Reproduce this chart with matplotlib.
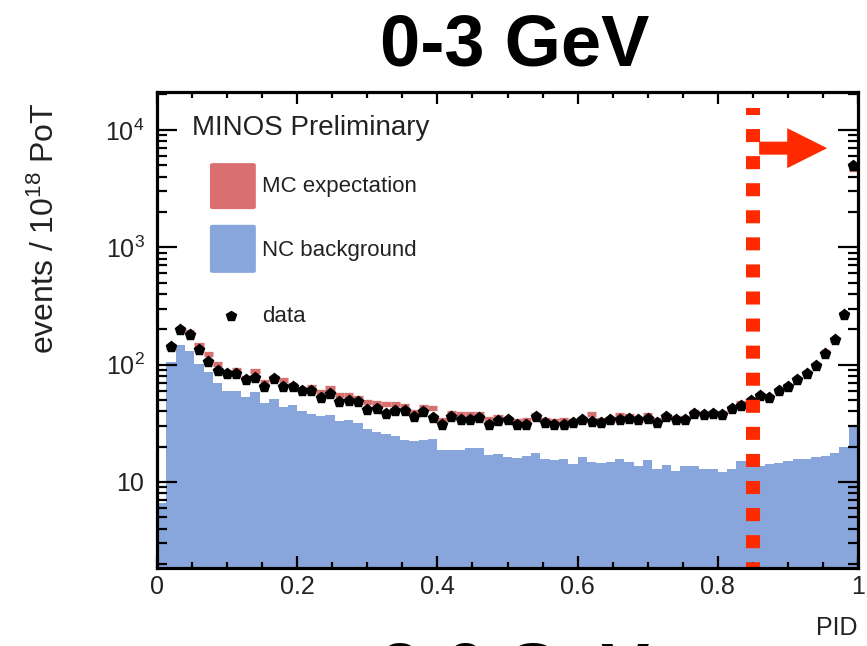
import numpy as np
import matplotlib
matplotlib.use("Agg")
import matplotlib.pyplot as plt
import matplotlib.patches as mpatches
from matplotlib.ticker import FixedLocator, FuncFormatter, LogLocator, MultipleLocator

plt.rcParams['font.family'] = ['Liberation Sans', 'DejaVu Sans']
plt.rcParams['mathtext.fontset'] = 'custom'
plt.rcParams['mathtext.rm'] = 'Liberation Sans'
plt.rcParams['mathtext.default'] = 'regular'

# 75 PID bins between 0 and 1
n_bins = 75
pid_range = (0.0, 1.0)
pid_cut = 0.85

# NC background (blue histogram)
nc_background = [
    6.6, 105, 148, 130, 101, 86, 70, 59, 59, 53,
    58, 47, 51, 43.6, 45.6, 40, 38.3, 36.8, 37, 33,
    33.6, 31.9, 28.4, 26.6, 25.4, 24.8, 23, 22.3, 22.8, 23.3,
    18.9, 18.9, 18.9, 19.3, 19.3, 17, 17.2, 16.4, 16, 16.8,
    17.7, 15.6, 15.3, 15.6, 14.1, 16.4, 14.7, 14.4, 14.7, 15.6,
    14.7, 13.8, 15.3, 12.8, 14, 12.4, 13.7, 13.7, 12.9, 12.8,
    12.2, 12.9, 15, 15, 13.7, 14.1, 14.5, 15, 15.8, 15.8,
    16.4, 16.8, 17.5, 19.8, 30.3,
]

# MC expectation (red bands)
mc_expectation = [
    np.nan, 140, 200, 188, 146, 124, 101, 87, 90.6, 77.4,
    87.7, 71.7, 77.4, 73.5, 67.6, 62.5, 65, 58.1, 63, 55.6,
    55.6, 52.4, 48.1, 47.2, 46.3, 46.3, 44.2, 39.6, 43.6, 42.5,
    34, 38.5, 38, 38, 38, 34.5, 36, 34, 33, 33.6,
    37.3, 34, 33, 33.6, 33, 34, 38, 33.6, 34, 37.1,
    36.3, 34, 37.3, 33.6, 35.6, 35, 35, 39.5, 38, 39,
    38.5, 43, 47, 49, 54, 53, 60, 66, 75, 85,
    100, 127, 163, 270, 4600,
]

# data points
data = [
    np.nan, 142, 199, 177, 134, 106, 87.7, 83.8, 83.8, 74.5,
    77.4, 64.1, 76, 65, 64.1, 59.3, 60.1, 52.4, 56.6, 48.1,
    49.4, 48.1, 40.8, 42.2, 38, 40.1, 40.1, 35.9, 39.3, 34.9,
    30.8, 36.1, 34, 34, 35, 30.8, 33.3, 33.4, 30.8, 30.8,
    35.6, 31.9, 30.8, 30.8, 31.9, 33.6, 32.5, 31.9, 33.6, 33.6,
    34.7, 33.6, 34.7, 31.9, 36, 34, 34, 38, 37.1, 38,
    37.1, 42.2, 44.8, 48.7, 53.7, 52.1, 59.3, 64.1, 73.5, 83.8,
    98, 124, 161, 267, 4900,
]

edges = np.linspace(pid_range[0], pid_range[1], n_bins + 1)
centers = 0.5 * (edges[:-1] + edges[1:])

blue = '#88a6dc'
red = '#d96f6f'
cut_red = '#ff2a00'
text_col = '#222222'

fig = plt.figure(figsize=(8.67, 6.46), dpi=100)
ax = fig.add_axes([157 / 867, 78 / 646, 701 / 867, 476 / 646])

ax.stairs(nc_background, edges, fill=True, color=blue, baseline=1, zorder=1)
ax.hlines(mc_expectation, edges[:-1], edges[1:], color=red, lw=3.8, zorder=2)
ax.plot(centers, data, 'p', color='black', ms=8, zorder=4)

# PID cut line and arrow
ylo, yhi = 1.85, 2.1e4
ax.plot([pid_cut, pid_cut], [1.54e4, ylo], color=cut_red, lw=10.1,
        ls=(0.43, (0.93, 1.0)), zorder=5, clip_on=False)
arrow = mpatches.FancyArrow(0.859, 0.882, 0.097, 0, width=13 / 476,
                            head_width=40 / 476, head_length=40 / 702,
                            length_includes_head=True, color=cut_red,
                            transform=ax.transAxes, zorder=6, lw=0)
ax.add_patch(arrow)

ax.set_xlim(*pid_range)
ax.set_yscale('log')
ax.set_ylim(ylo, yhi)

# ticks
ax.xaxis.set_major_locator(MultipleLocator(0.2))
ax.xaxis.set_minor_locator(MultipleLocator(0.05))
ax.xaxis.set_major_formatter(FuncFormatter(lambda v, p: '%g' % round(v, 2)))
ax.yaxis.set_major_locator(FixedLocator([10, 100, 1000, 10000]))
ax.yaxis.set_minor_locator(LogLocator(base=10, subs=np.arange(2, 10)))
ylabels = {10: '10', 100: '10$^{2}$', 1000: '10$^{3}$', 10000: '10$^{4}$'}
ax.yaxis.set_major_formatter(FuncFormatter(lambda v, p: ylabels.get(int(round(v)), '')))
ax.yaxis.set_minor_formatter(FuncFormatter(lambda v, p: ''))

ax.tick_params(axis='both', which='both', direction='in', top=True, right=True,
               width=1.6, colors='black', labelsize=18, labelcolor=text_col)
ax.tick_params(axis='x', which='major', length=8.6, pad=5)
ax.tick_params(axis='x', which='minor', length=4.3)
ax.tick_params(axis='y', which='major', length=14.4, pad=9)
ax.tick_params(axis='y', which='minor', length=7.2)
for s in ax.spines.values():
    s.set_linewidth(2.3)
    s.set_zorder(7)

# legend drawn by hand
ax.text(0.05, 0.924, 'MINOS Preliminary', transform=ax.transAxes, fontsize=20,
        color=text_col, va='center', ha='left')
ax.add_patch(mpatches.FancyBboxPatch((0.0755, 0.754), 0.0655, 0.0966,
                                     boxstyle='round,pad=0,rounding_size=0.004',
                                     transform=ax.transAxes, color=red, lw=0))
ax.add_patch(mpatches.FancyBboxPatch((0.0755, 0.620), 0.0655, 0.101,
                                     boxstyle='round,pad=0,rounding_size=0.004',
                                     transform=ax.transAxes, color=blue, lw=0))
ax.text(0.1496, 0.8025, 'MC expectation', transform=ax.transAxes, fontsize=16,
        color=text_col, va='center')
ax.text(0.1496, 0.668, 'NC background', transform=ax.transAxes, fontsize=16,
        color=text_col, va='center')
ax.plot([0.105], [0.529], 'p', color='black', ms=7, transform=ax.transAxes)
ax.text(0.1496, 0.529, 'data', transform=ax.transAxes, fontsize=16,
        color=text_col, va='center')

fig.text(45 / 867, 1 - 228 / 646, 'events / 10$^{18}$ PoT', rotation=90,
         fontsize=23, color=text_col, ha='center', va='center')
fig.text(858 / 867, 1 - 628 / 646, 'PID', fontsize=18, color=text_col,
         ha='right', va='center')
fig.text(515 / 867, 1 - 65 / 646, '0-3 GeV', fontsize=52, fontweight='bold',
         ha='center', va='baseline')
fig.text(515 / 867, 1 - 694 / 646, '3-6 GeV', fontsize=52, fontweight='bold',
         ha='center', va='baseline')

fig.savefig('out.png', dpi=100)
